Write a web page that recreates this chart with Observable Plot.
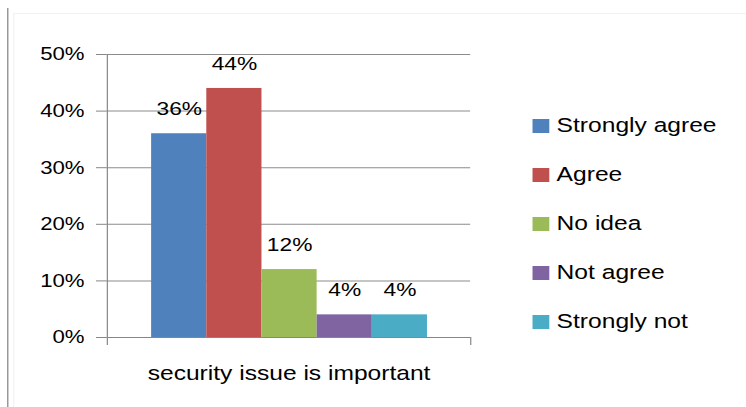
<!DOCTYPE html>
<html>
<head>
<meta charset="utf-8">
<script src="https://cdn.jsdelivr.net/npm/d3@7"></script>
<script src="https://cdn.jsdelivr.net/npm/@observablehq/plot@0.6"></script>
<style>
  html, body { margin: 0; padding: 0; background: #fff; }
  #stage {
    position: relative; width: 622px; height: 407px; overflow: hidden;
    transform: scaleX(1.19936); transform-origin: 0 0;
    font-family: "Liberation Sans", Arial, sans-serif; color: #000;
  }
  #stage svg { position: absolute; left: 0; top: 0; }
  #outer { position: absolute; left: 6px; top: 8px; bottom: 0; border-left: 1.6px solid #808080; }
  #inner { position: absolute; left: 10.5px; top: 13px; right: 0; bottom: 0; border-left: 1px solid #f2f2f2; border-top: 1px solid #f2f2f2; }
  .legend { position: absolute; left: 443.6px; top: 100px; }
  .legend .row { height: 49px; display: flex; align-items: center; font-size: 20.5px; white-space: nowrap; }
  .legend .sw { width: 14px; height: 14px; margin-right: 6.5px; flex: none; position: relative; top: 1px; }
</style>
</head>
<body>
<div id="stage"><div id="outer"></div><div id="inner"></div></div>
<script>
const category = "security issue is important";
const series = ["Strongly agree", "Agree", "No idea", "Not agree", "Strongly not"];
const values = [0.36, 0.44, 0.12, 0.04, 0.04];
const colors = ["#4F81BD", "#C0504D", "#9BBB59", "#8064A2", "#4BACC6"];
const yTicks = [0, 0.1, 0.2, 0.3, 0.4, 0.5];

const data = series.map((s, i) => ({series: s, value: values[i]}));
const pct = d3.format(".0%");

const W = 622, H = 407, mTop = 54, mBottom = 70;
const chart = Plot.plot({
  width: W, height: H,
  marginLeft: 89, marginRight: W - 392, marginTop: mTop, marginBottom: mBottom,
  style: {fontFamily: '"Liberation Sans", Arial, sans-serif', background: "transparent", color: "#000", overflow: "visible"},
  x: {domain: series, paddingInner: 0, paddingOuter: 0.74, axis: null},
  y: {domain: [0, 0.5], axis: null, label: null},
  color: {domain: series, range: colors},
  marks: [
    Plot.ruleY(yTicks.slice(1), {stroke: "#8c8c8c"}),
    Plot.barY(data, {x: "series", y: "value", fill: "series"}),
    Plot.ruleY([0], {stroke: "#868686"}),
    Plot.frame({anchor: "left", stroke: "#868686", insetBottom: -7}),
    Plot.frame({anchor: "right", stroke: "#868686", insetTop: H - mTop - mBottom, insetBottom: -7}),
    Plot.axisY({ticks: yTicks, tickFormat: pct, tickSize: 9, tickPadding: 10, fontSize: 18.5, stroke: "#868686", fill: "#000", label: null}),
    Plot.text(data, {x: "series", y: "value", text: d => pct(d.value), dy: -25, fontSize: 19, fill: "#000"}),
    Plot.text([category], {text: d => d, frameAnchor: "bottom", dy: 42, fontSize: 20.5, fill: "#000"})
  ]
});
const stage = document.getElementById("stage");
stage.appendChild(chart);

const legend = document.createElement("div");
legend.className = "legend";
series.forEach((s, i) => {
  const row = document.createElement("div");
  row.className = "row";
  const sw = document.createElement("span");
  sw.className = "sw";
  sw.style.background = colors[i];
  const t = document.createElement("span");
  t.textContent = s;
  row.appendChild(sw); row.appendChild(t);
  legend.appendChild(row);
});
stage.appendChild(legend);
</script>
</body>
</html>
